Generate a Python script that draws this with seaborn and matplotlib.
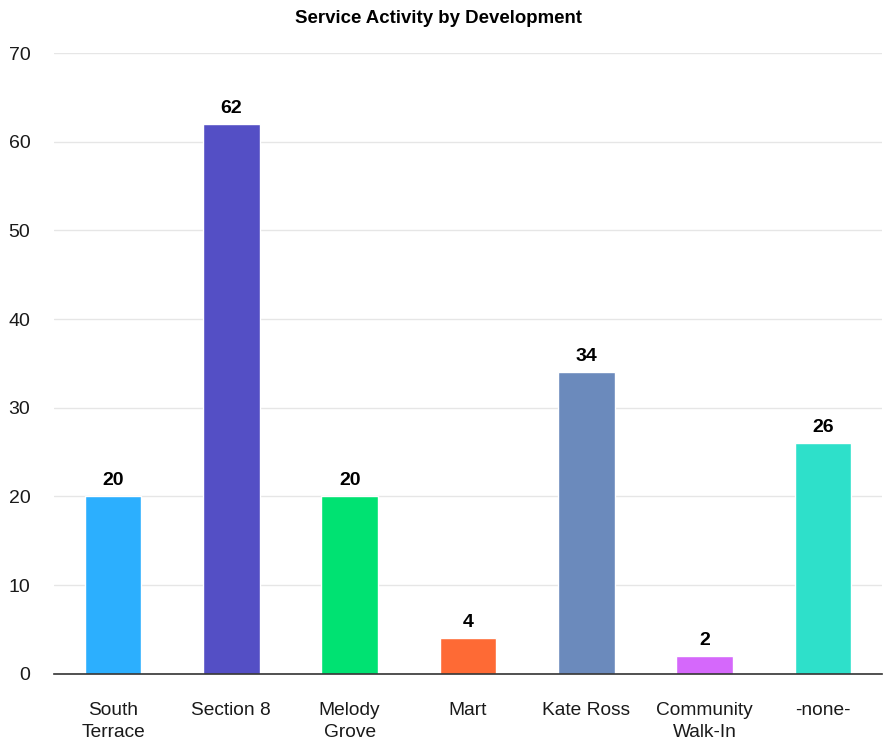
import matplotlib
matplotlib.use("Agg")
import matplotlib.pyplot as plt
import seaborn as sns
import pandas as pd

categories = ["South\nTerrace", "Section 8", "Melody\nGrove", "Mart", "Kate Ross", "Community\nWalk-In", "-none-"]
values = [20, 62, 20, 4, 34, 2, 26]
colors = ["#2caffe", "#544fc5", "#00e272", "#fe6a35", "#6b8abc", "#d568fb", "#2ee0ca"]
y_ticks = [0, 10, 20, 30, 40, 50, 60, 70]

sns.set_theme(style="white")
plt.rcParams["font.family"] = ["Liberation Sans", "DejaVu Sans"]

df = pd.DataFrame({"Development": categories, "Count": values})

fig = plt.figure(figsize=(8.83, 7.47), dpi=100)
ax = fig.add_axes([0.061, 0.098, 0.938, 0.831])

sns.barplot(data=df, x="Development", y="Count", hue="Development",
            palette=colors, width=0.48, legend=False, ax=ax, zorder=3,
            saturation=1)

ax.set_ylim(0, 70)
ax.set_yticks(y_ticks)
ax.set_xlim(-0.5, len(categories) - 0.5)
ax.yaxis.grid(True, color="#e6e6e6", linewidth=1, zorder=0)
ax.set_axisbelow(True)
for side in ["top", "right", "left"]:
    ax.spines[side].set_visible(False)
ax.spines["bottom"].set_color("#333333")
ax.spines["bottom"].set_linewidth(1.2)
ax.spines["bottom"].set_zorder(4)

ax.tick_params(axis="y", length=0, pad=17, labelsize=14, labelcolor="#1a1a1a")
ax.tick_params(axis="x", length=0, pad=20.5, labelsize=13.8, labelcolor="#1a1a1a")
for lbl in ax.get_xticklabels():
    lbl.set_linespacing(1.4)
ax.set_xlabel("")
ax.set_ylabel("")

for i, v in enumerate(values):
    ax.annotate(str(v), xy=(i, v), xytext=(0, 5), textcoords="offset points",
                ha="center", va="bottom", fontsize=14, fontweight="bold",
                color="black", zorder=5)

fig.suptitle("Service Activity by Development", x=0.497, y=0.987,
             fontsize=13.4, fontweight="bold", color="black", va="top")

fig.savefig("out.png", dpi=100)
